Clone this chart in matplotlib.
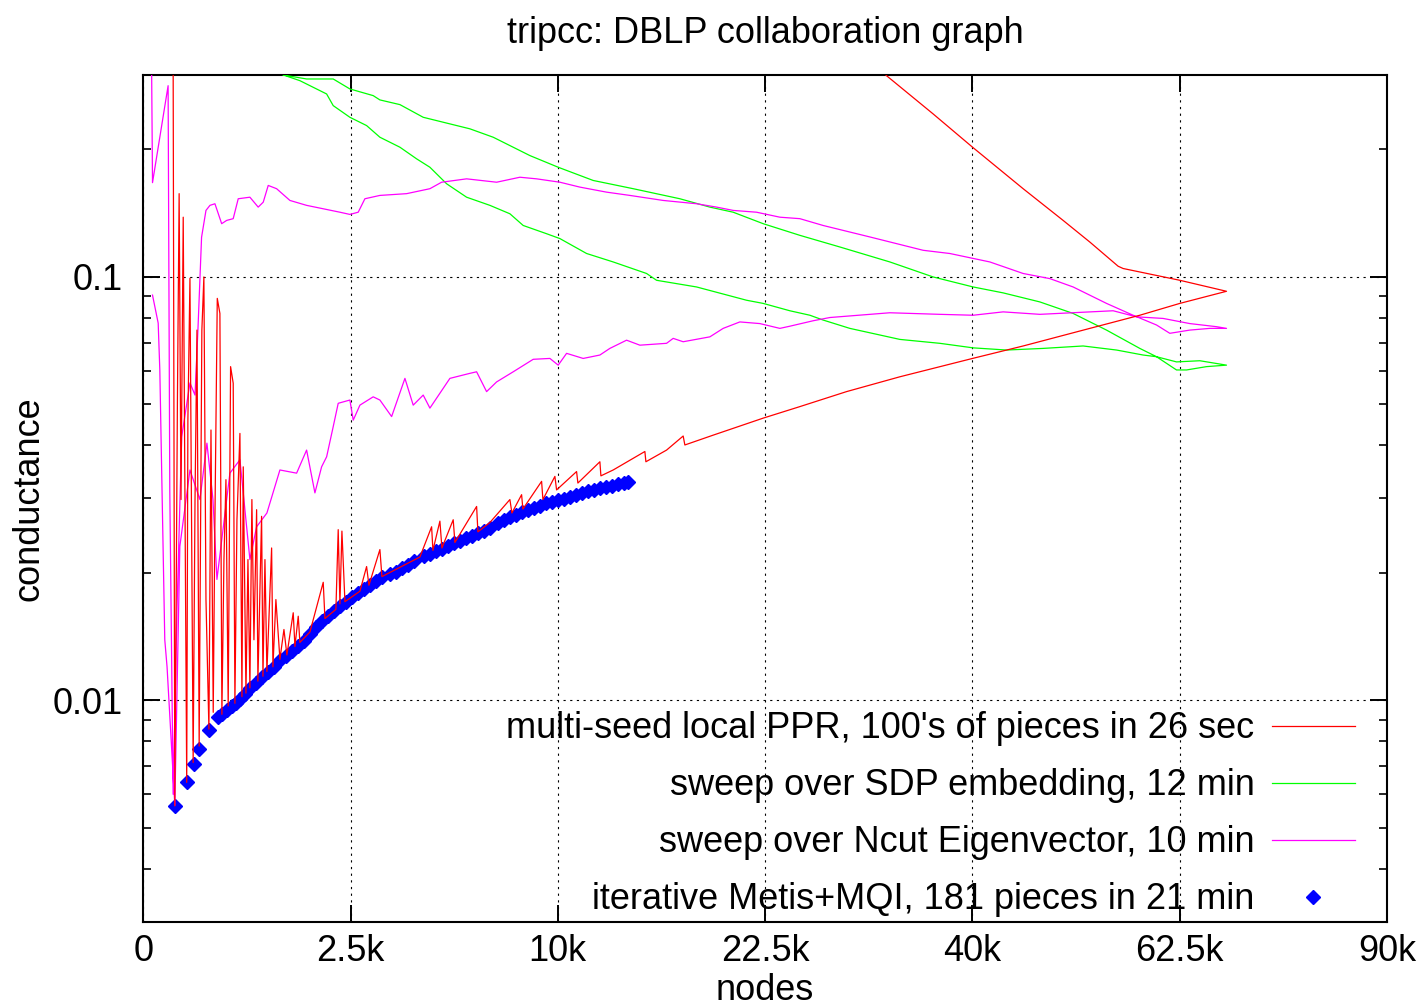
import numpy as np
import matplotlib
matplotlib.use("Agg")
import matplotlib.pyplot as plt
from matplotlib.lines import Line2D
from matplotlib.ticker import FixedLocator, LogLocator, NullFormatter, NullLocator

plt.rcParams['font.family'] = ['Liberation Sans', 'DejaVu Sans']

TITLE = "tripcc: DBLP collaboration graph"
X_TICKS = [0, 2500, 10000, 22500, 40000, 62500, 90000]
X_TICK_LABELS = ["0", "2.5k", "10k", "22.5k", "40k", "62.5k", "90k"]
Y_TICKS = [0.01, 0.1]
Y_TICK_LABELS = ["0.01", "0.1"]
LABELS = [
    "multi-seed local PPR, 100's of pieces in 26 sec",
    "sweep over SDP embedding, 12 min",
    "sweep over Ncut Eigenvector, 10 min",
    "iterative Metis+MQI, 181 pieces in 21 min",
]

# multi-seed local PPR (size goes out to n/2 and back again)
ppr_nodes = [
    52, 58, 68, 75, 83, 93, 110, 116, 127, 145,
    156, 168, 182, 200, 214, 229, 251, 267, 285, 299,
    319, 342, 360, 379, 398, 420, 444, 471, 489, 511,
    544, 567, 582, 614, 638, 662, 687, 713, 748, 765,
    815, 834, 862, 890, 959, 979, 1024, 1087, 1152, 1201,
    1309, 1339, 1398, 1428, 1617, 1885, 1921, 2160, 2212, 2251,
    2297, 2367, 2732, 2903, 2964, 3259, 3315, 4454, 4839, 4883,
    5121, 5191, 5591, 5652, 6467, 6517, 6993, 7823, 7909, 8330,
    8387, 9234, 9295, 9861, 9942, 10927, 10993, 12134, 12188, 12851,
    14643, 14702, 15937, 16964, 17070, 18901, 22362, 25087, 28782, 33310,
    40020, 45051, 52141, 57791, 62525, 68283, 62525, 55871, 55305, 52141,
    49239, 45051, 40020, 36306, 32149, 31000,
]
ppr_cond = [
    0.33, 0.00563, 0.0512, 0.1573, 0.0298, 0.1384, 0.0064, 0.0459, 0.0993, 0.00713,
    0.0298, 0.0749, 0.0078, 0.0749, 0.1, 0.0173, 0.00855, 0.0435, 0.00937, 0.0267,
    0.089, 0.082, 0.00927, 0.0215, 0.0332, 0.0097, 0.0614, 0.0561, 0.00984, 0.0267,
    0.0427, 0.0102, 0.0356, 0.0104, 0.0215, 0.0107, 0.0298, 0.0139, 0.0282, 0.0111,
    0.0272, 0.0114, 0.0215, 0.0117, 0.0229, 0.012, 0.0173, 0.0125, 0.0147, 0.0128,
    0.0161, 0.0134, 0.0158, 0.0137, 0.0145, 0.019, 0.0156, 0.0164, 0.0253, 0.0169,
    0.0251, 0.0171, 0.0181, 0.0207, 0.0187, 0.0227, 0.0196, 0.0218, 0.0257, 0.0226,
    0.0265, 0.0229, 0.0267, 0.0236, 0.0287, 0.025, 0.0263, 0.0298, 0.0277, 0.0306,
    0.0283, 0.0329, 0.0298, 0.0338, 0.0314, 0.0347, 0.0326, 0.0366, 0.0339, 0.035,
    0.0387, 0.0366, 0.039, 0.0421, 0.0401, 0.0423, 0.0464, 0.0494, 0.0536, 0.0581,
    0.0642, 0.0687, 0.0756, 0.0812, 0.0866, 0.0925, 0.0982, 0.1047, 0.106, 0.1209,
    0.136, 0.1616, 0.2025, 0.2427, 0.2988, 0.32,
]

# sweep over SDP embedding
sdp_nodes = [
    950, 1140, 1553, 2100, 2485, 3077, 3259, 3834, 4561, 6209,
    7127, 8699, 10020, 11781, 13968, 16757, 18684, 20252, 22362, 25087,
    28237, 32436, 36306, 40077, 43027, 46777, 50315, 53994, 57791, 59746,
    62126, 63336, 65787, 68283, 64963, 62126, 59746, 58177, 55122, 51402,
    47124, 43368, 40077, 36925, 33310, 29053, 26900, 25860, 24330, 22362,
    21182, 17817, 15334, 14742, 12851, 11438, 10102, 9467, 8401, 7823,
    6993, 6084, 5355, 4782, 4348, 3834, 3259, 2903, 2485, 2100,
    1957, 1428, 1140, 950,
]
sdp_cond = [
    0.32, 0.300, 0.2935, 0.2935, 0.278, 0.2681, 0.2619, 0.2553, 0.2383, 0.2238,
    0.2138, 0.1935, 0.1816, 0.169, 0.1616, 0.153, 0.1462, 0.1422, 0.1336, 0.1254,
    0.1177, 0.1085, 0.1, 0.0947, 0.0917, 0.0873, 0.082, 0.0749, 0.0678, 0.0648,
    0.0603, 0.0603, 0.0614, 0.0619, 0.0634, 0.063, 0.0648, 0.0654, 0.0672, 0.0687,
    0.0678, 0.0672, 0.068, 0.0697, 0.0712, 0.0756, 0.0791, 0.0812, 0.0832, 0.0866,
    0.0881, 0.0947, 0.0982, 0.1019, 0.1085, 0.1136, 0.1232, 0.1265, 0.1323, 0.141,
    0.1476, 0.1543, 0.166, 0.1816, 0.1901, 0.2025, 0.2138, 0.2278, 0.2383, 0.2539,
    0.2705, 0.2908, 0.300, 0.32,
]

# sweep over Ncut eigenvector
ncut_nodes = [
    4, 5, 36, 41, 52, 66, 86, 127, 156, 174,
    198, 229, 259, 299, 358, 405, 471, 525, 662, 769,
    838, 909, 1035, 1252, 1553, 1885, 2251, 2485, 2689, 2859,
    3259, 4036, 4782, 5180, 6084, 7266, 8255, 9004, 10102, 11095,
    12492, 13781, 15731, 17817, 19127, 20252, 21889, 23584, 25087, 26900,
    30723, 35393, 37858, 41706, 45051, 47826, 50315, 53994, 57016, 59746,
    61324, 63736, 66196, 68283, 67029, 63736, 60526, 57408, 54737, 50315,
    46777, 43027, 40077, 36925, 32436, 27433, 26115, 24330, 23584, 22124,
    20713, 19570, 18684, 16964, 16341, 15937, 14352, 13594, 12670, 12134,
    11263, 10429, 10020, 9623, 8850, 7965, 7266, 6860, 6467, 6209,
    5472, 4782, 4561, 4241, 3985, 3590, 3259, 3077, 2732, 2566,
    2485, 2212, 2100, 1957, 1851, 1715, 1553, 1369, 1087, 890,
    748, 662, 544, 437, 316, 283, 236, 187, 127, 78,
    58, 33, 27, 20, 16, 13, 5,
]
ncut_cond = [
    0.33, 0.167, 0.283, 0.0314, 0.006, 0.0161, 0.0419, 0.0562, 0.0526, 0.0749,
    0.1241, 0.1436, 0.1476, 0.1489, 0.1336, 0.136, 0.1373, 0.153, 0.1543, 0.1462,
    0.1502, 0.1645, 0.1616, 0.1516, 0.1476, 0.1449, 0.1422, 0.1405, 0.1422, 0.153,
    0.1558, 0.1573, 0.1616, 0.1674, 0.1705, 0.1674, 0.172, 0.1705, 0.1674, 0.163,
    0.1586, 0.1558, 0.1516, 0.1489, 0.1462, 0.1436, 0.1422, 0.1384, 0.1373, 0.1323,
    0.1243, 0.1156, 0.1136, 0.1085, 0.1019, 0.0991, 0.0947, 0.0866, 0.0812, 0.077,
    0.0736, 0.0749, 0.0756, 0.0756, 0.0763, 0.0776, 0.0798, 0.0805, 0.0832, 0.0823,
    0.0816, 0.0827, 0.0812, 0.0816, 0.0823, 0.0802, 0.0788, 0.0765, 0.0756, 0.0776,
    0.0783, 0.0756, 0.0722, 0.0703, 0.0716, 0.0697, 0.069, 0.0709, 0.0678, 0.0654,
    0.0642, 0.066, 0.0619, 0.0642, 0.0639, 0.0597, 0.0565, 0.0536, 0.0597, 0.0592,
    0.0576, 0.049, 0.0526, 0.0498, 0.0576, 0.0468, 0.0512, 0.0521, 0.0498, 0.0459,
    0.0512, 0.0503, 0.0443, 0.0376, 0.0356, 0.0309, 0.039, 0.0344, 0.035, 0.0277,
    0.0257, 0.0215, 0.037, 0.0344, 0.0193, 0.0298, 0.0405, 0.0298, 0.035, 0.0231,
    0.00565, 0.012, 0.0139, 0.0332, 0.0603, 0.0778, 0.0906,
]

# iterative Metis+MQI pieces
mqi_nodes = [
    58, 110, 150, 182, 251, 325, 360, 408, 458, 500,
    544, 602, 662, 739, 820, 905, 994, 1087, 1185, 1286,
    1392, 1502, 1617, 1735, 1858, 1985, 2116, 2251, 2390, 2534,
    2682, 2834, 2990, 3150, 3315, 3541, 3715, 3893, 4076, 4263,
    4584, 4782, 4984, 5191, 5401, 5616, 5835, 6058, 6286, 6517,
    6753, 6993, 7319, 7569, 7823, 8081, 8343, 8610, 8880, 9155,
    9434, 9717, 10005, 10296, 10592, 10892, 11196, 11505, 11817, 12134,
    12455, 12780, 13109, 13443, 13668,
]
mqi_cond = [
    0.00563, 0.0064, 0.00707, 0.00766, 0.00851, 0.00912, 0.00927, 0.00947, 0.00968, 0.00984,
    0.01005, 0.01033, 0.01067, 0.01097, 0.01133, 0.01167, 0.01198, 0.01242, 0.01276, 0.01311,
    0.01347, 0.01384, 0.01438, 0.01488, 0.01543, 0.01586, 0.01625, 0.01668, 0.01711, 0.01753,
    0.01791, 0.01831, 0.01871, 0.01912, 0.01954, 0.01987, 0.02015, 0.02053, 0.02091, 0.02131,
    0.02191, 0.02219, 0.0225, 0.02283, 0.02315, 0.02347, 0.02382, 0.02414, 0.02447, 0.02479,
    0.02514, 0.02556, 0.0263, 0.02669, 0.02704, 0.02742, 0.02778, 0.02813, 0.02848, 0.02882,
    0.02919, 0.02943, 0.02967, 0.02991, 0.0302, 0.03053, 0.03086, 0.03117, 0.03142, 0.03168,
    0.03194, 0.03216, 0.03237, 0.03259, 0.03271,
]

RED, GREEN, MAGENTA, BLUE = '#ff0000', '#00ff00', '#ff00ff', '#0000ff'
FS = 26


def sqrt_fwd(x):
    return np.sqrt(np.maximum(x, 0))


def sqrt_inv(x):
    return np.square(x)


fig = plt.figure(figsize=(14.21, 10.06), dpi=100)
ax = fig.add_axes([0.1008, 0.0838, 0.8752, 0.8417])
ax.set_xscale('function', functions=(sqrt_fwd, sqrt_inv))
ax.set_yscale('log')

ax.plot(mqi_nodes, mqi_cond, ls='none', marker='D', ms=7.5, color=BLUE, mec=BLUE, zorder=2.5)
ax.plot(sdp_nodes, sdp_cond, color=GREEN, lw=0.9, zorder=3)
ax.plot(ncut_nodes, ncut_cond, color=MAGENTA, lw=0.9, zorder=3)
ax.plot(ppr_nodes, ppr_cond, color=RED, lw=0.9, zorder=4)

ax.set_xlim(0, 90000)
ax.set_ylim(0.003, 0.3)

ax.xaxis.set_major_locator(FixedLocator(X_TICKS))
ax.set_xticklabels(X_TICK_LABELS)
ax.xaxis.set_minor_locator(NullLocator())
ax.yaxis.set_major_locator(FixedLocator(Y_TICKS))
ax.set_yticklabels(Y_TICK_LABELS)
ax.yaxis.set_minor_locator(LogLocator(base=10, subs=range(2, 10)))
ax.yaxis.set_minor_formatter(NullFormatter())

ax.tick_params(axis='both', which='major', direction='in', top=True, right=True,
               labelsize=FS, length=12, width=1.4)
ax.tick_params(axis='both', which='minor', direction='in', top=True, right=True,
               length=6, width=1.2)
ax.tick_params(axis='x', pad=9)
ax.tick_params(axis='y', pad=15)

ax.grid(True, which='major', color='black', linestyle=(0, (2, 4)), lw=0.8)
for s in ax.spines.values():
    s.set_linewidth(1.5)

ax.set_title(TITLE, fontsize=FS, pad=23)
ax.set_xlabel("nodes", fontsize=FS, labelpad=3)
ax.set_ylabel("conductance", fontsize=FS, labelpad=4.5)

handles = [
    Line2D([], [], color=RED, lw=0.9),
    Line2D([], [], color=GREEN, lw=0.9),
    Line2D([], [], color=MAGENTA, lw=0.9),
    Line2D([], [], ls='none', marker='D', ms=7.5, color=BLUE),
]
ax.legend(handles, LABELS, loc='lower right', bbox_to_anchor=(0.974, 0.005),
          frameon=False, markerfirst=False, fontsize=FS, handlelength=2.3,
          handletextpad=0.47, labelspacing=0.61, borderpad=0, borderaxespad=0,
          numpoints=1)

fig.savefig("out.png", dpi=100)
